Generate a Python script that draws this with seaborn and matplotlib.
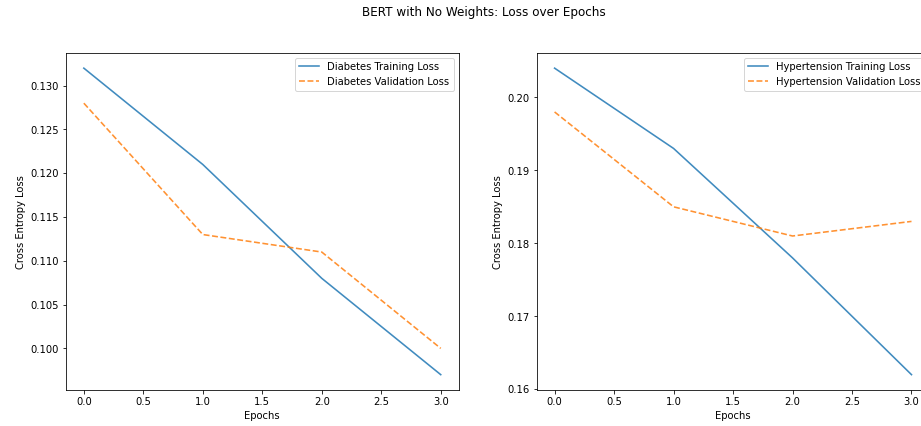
import numpy as np
import pandas as pd
import seaborn as sns
import matplotlib.pyplot as plt

# Loss values
epochs = [0, 1, 2, 3]
diabetes_train = [0.132, 0.121, 0.108, 0.097]
diabetes_val = [0.128, 0.113, 0.111, 0.100]
hypertension_train = [0.204, 0.193, 0.178, 0.162]
hypertension_val = [0.198, 0.185, 0.181, 0.183]

fig = plt.figure(figsize=(12.8, 5.92), dpi=72)
ax1 = fig.add_axes([0.0716, 0.0845, 0.426, 0.791])
ax2 = fig.add_axes([0.5824, 0.0845, 0.426, 0.791])

panels = [
    (ax1, 'Diabetes', diabetes_train, diabetes_val),
    (ax2, 'Hypertension', hypertension_train, hypertension_val),
]

for ax, name, train, val in panels:
    sns.lineplot(x=epochs, y=train, ax=ax, label=f'{name} Training Loss',
                 color='#1f77b4', alpha=0.85, linewidth=1.6)
    sns.lineplot(x=epochs, y=val, ax=ax, label=f'{name} Validation Loss',
                 color='#ff7f0e', linestyle='--', alpha=0.85, linewidth=1.6)
    ax.set_xlabel('Epochs')
    ax.set_ylabel('Cross Entropy Loss')
    ax.legend(loc='upper right')

# original figure was a bit wider and cropped, so the title sits right of centre
fig.suptitle('BERT with No Weights: Loss over Epochs', x=0.525, y=0.985)

plt.savefig('out.png', dpi=72)
